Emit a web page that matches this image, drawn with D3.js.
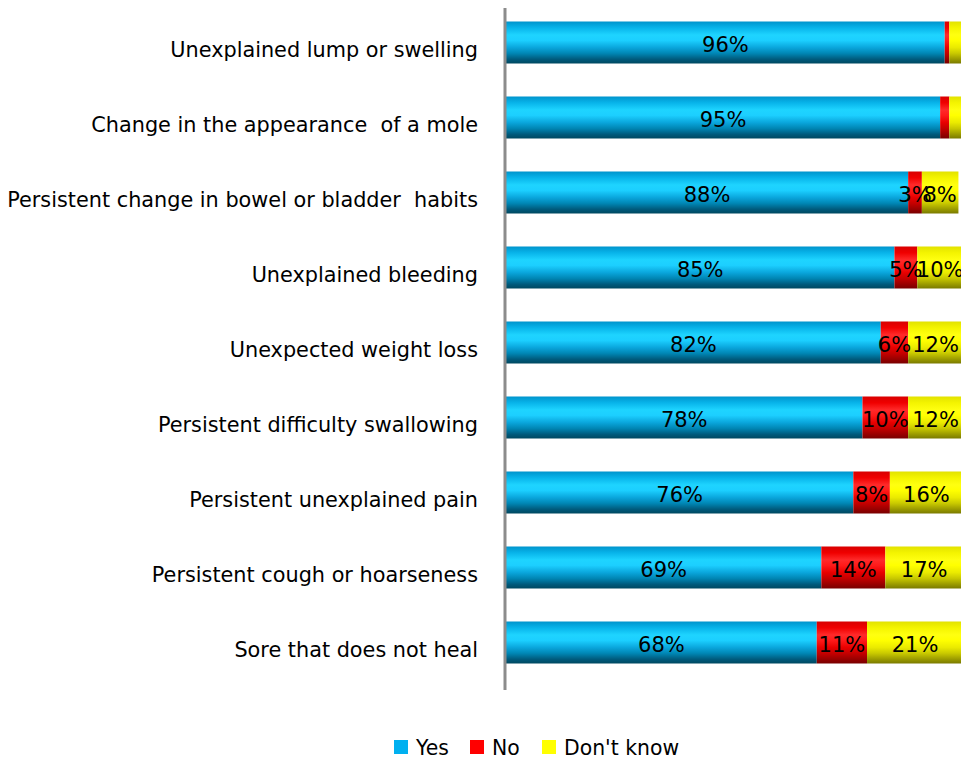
<!DOCTYPE html>
<html>
<head>
<meta charset="utf-8">
<script src="https://cdn.jsdelivr.net/npm/d3@7/dist/d3.min.js"></script>
<style>
  html, body { margin: 0; padding: 0; background: #fff; }
  svg { display: block; }
  text { font-family: "DejaVu Sans", "Noto Sans", sans-serif; fill: #000; }
</style>
</head>
<body>
<svg id="chart" width="961" height="758"></svg>
<script>
// Survey responses: "Would you consult a doctor about ...?"
const categories = [
  "Unexplained lump or swelling",
  "Change in the appearance  of a mole",
  "Persistent change in bowel or bladder  habits",
  "Unexplained bleeding",
  "Unexpected weight loss",
  "Persistent difficulty swallowing",
  "Persistent unexplained pain",
  "Persistent cough or hoarseness",
  "Sore that does not heal"
];
const yesValues      = [96, 95, 88, 85, 82, 78, 76, 69, 68];
const noValues       = [1, 2, 3, 5, 6, 10, 8, 14, 11];
const dontKnowValues = [3, 3, 8, 10, 12, 12, 16, 17, 21];
// rows whose "No" / "Don't know" segments carry a value label
const showMinorLabels = [false, false, true, true, true, true, true, true, true];
const seriesNames = ["Yes", "No", "Don't know"];
const seriesColors = ["#00b0f0", "#ff0000", "#ffff00"];

const svg = d3.select("#chart");
const margin = { left: 506, top: 4 };
const plotW = 457;

const rows = categories.map((c, i) => ({
  cat: c, idx: i, Yes: yesValues[i], No: noValues[i], "Don't know": dontKnowValues[i]
}));
const stack = d3.stack().keys(seriesNames)(rows);

const x = d3.scaleLinear().domain([0, 100]).range([margin.left, margin.left + plotW]);
const y = d3.scaleBand().domain(categories)
  .range([margin.top + 1, margin.top + 1 + 9 * 75]).paddingInner(0.44).paddingOuter(0.22);

// glossy vertical gradients, one per series
const gradStops = [
  ["#0094cc", "#08b4ea", "#1ed4ff", "#1ccfff", "#0aa6dc", "#0086b4", "#005a7c", "#004860"],
  ["#d80000", "#f00000", "#ff2a2a", "#ff1a1a", "#e80000", "#c40000", "#980000", "#780000"],
  ["#e2e200", "#f4f400", "#ffff10", "#ffff00", "#eaea00", "#c8c800", "#9a9a00", "#7a7a00"]
];
const gradOffsets = [0, 0.15, 0.32, 0.45, 0.62, 0.76, 0.9, 1];
const defs = svg.append("defs");
gradStops.forEach((stops, i) => {
  const g = defs.append("linearGradient").attr("id", "grad" + i)
    .attr("x1", 0).attr("y1", 0).attr("x2", 0).attr("y2", 1);
  stops.forEach((c, j) => g.append("stop").attr("offset", gradOffsets[j]).attr("stop-color", c));
});

// bars
svg.append("g").selectAll("g").data(stack).join("g")
  .attr("fill", (d, i) => `url(#grad${i})`)
  .selectAll("rect").data(d => d).join("rect")
  .attr("x", d => x(d[0]))
  .attr("y", d => y(d.data.cat))
  .attr("width", d => x(d[1]) - x(d[0]))
  .attr("height", y.bandwidth());

// value labels
svg.append("g").selectAll("g").data(stack).join("g")
  .selectAll("text")
  .data((d, si) => d.filter(p => si === 0 || showMinorLabels[p.data.idx]))
  .join("text")
  .attr("x", d => (x(d[0]) + x(d[1])) / 2)
  .attr("y", d => y(d.data.cat) + y.bandwidth() / 2 + 2)
  .attr("dy", "0.38em")
  .attr("text-anchor", "middle")
  .style("font-size", "21px")
  .text(d => (d[1] - d[0]) + "%");

// category axis line
svg.append("line")
  .attr("x1", margin.left - 1).attr("x2", margin.left - 1)
  .attr("y1", 8).attr("y2", 690)
  .attr("stroke", "#8c8c8c").attr("stroke-width", 3);

// category labels, sitting a little below the bar centre
svg.append("g").selectAll("text").data(categories).join("text")
  .attr("x", 478)
  .attr("y", d => y(d) + y.bandwidth() / 2 + 7)
  .attr("dy", "0.38em")
  .attr("text-anchor", "end")
  .style("font-size", "20.8px")
  .style("white-space", "pre")
  .text(d => d);

// legend
const legendItems = [
  { name: "Yes", x: 394 },
  { name: "No", x: 470 },
  { name: "Don't know", x: 542 }
];
const lg = svg.append("g").selectAll("g").data(legendItems).join("g")
  .attr("transform", d => `translate(${d.x},740)`);
lg.append("rect").attr("width", 14).attr("height", 14)
  .attr("fill", (d, i) => seriesColors[i]);
lg.append("text").attr("x", 22).attr("y", 7).attr("dy", "0.38em")
  .style("font-size", "20.4px").text(d => d.name);
</script>
</body>
</html>
